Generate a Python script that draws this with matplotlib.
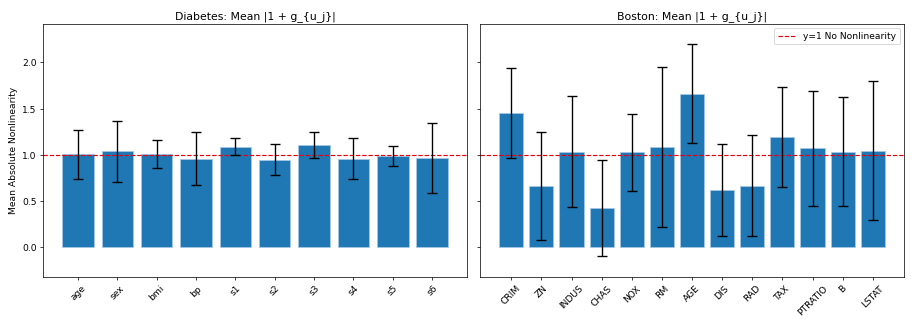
import matplotlib
matplotlib.use("Agg")
import matplotlib.pyplot as plt
import numpy as np

diabetes_features = ["age", "sex", "bmi", "bp", "s1", "s2", "s3", "s4", "s5", "s6"]
diabetes_mean = [1.01, 1.04, 1.01, 0.96, 1.09, 0.95, 1.105, 0.96, 0.99, 0.965]
diabetes_std = [0.265, 0.33, 0.15, 0.29, 0.09, 0.172, 0.14, 0.22, 0.107, 0.378]

boston_features = ["CRIM", "ZN", "INDUS", "CHAS", "NOX", "RM", "AGE",
                   "DIS", "RAD", "TAX", "PTRATIO", "B", "LSTAT"]
boston_mean = [1.453, 0.665, 1.033, 0.43, 1.03, 1.088, 1.66,
               0.62, 0.667, 1.192, 1.073, 1.037, 1.047]
boston_std = [0.487, 0.58, 0.60, 0.52, 0.418, 0.864, 0.535,
              0.495, 0.545, 0.54, 0.62, 0.585, 0.752]

fig, axes = plt.subplots(1, 2, figsize=(14, 5), sharey=True)

panels = [
    (axes[0], "Diabetes", diabetes_features, diabetes_mean, diabetes_std),
    (axes[1], "Boston", boston_features, boston_mean, boston_std),
]

for ax, name, features, mean, std in panels:
    x = np.arange(len(features))
    ax.bar(x, mean, color="#1f77b4", edgecolor="#a9c9e6", linewidth=0.8)
    ax.axhline(1.0, color="#e8000b", linestyle="--", linewidth=1.3,
               label="y=1 No Nonlinearity")
    ax.errorbar(x, mean, yerr=std, fmt="none", ecolor="black",
                elinewidth=1.5, capsize=5, capthick=1.5)
    ax.set_xticks(x)
    ax.set_xticklabels(features, rotation=45)
    ax.set_title(f"{name}: Mean |1 + g_{{u_j}}|")

axes[0].set_ylabel("Mean Absolute Nonlinearity")
axes[0].set_ylim(-0.32, 2.42)
axes[1].legend(loc="upper right")

fig.subplots_adjust(left=0.047, right=0.989, bottom=0.15, top=0.926, wspace=0.03)
fig.savefig("out.png", dpi=65.3)
